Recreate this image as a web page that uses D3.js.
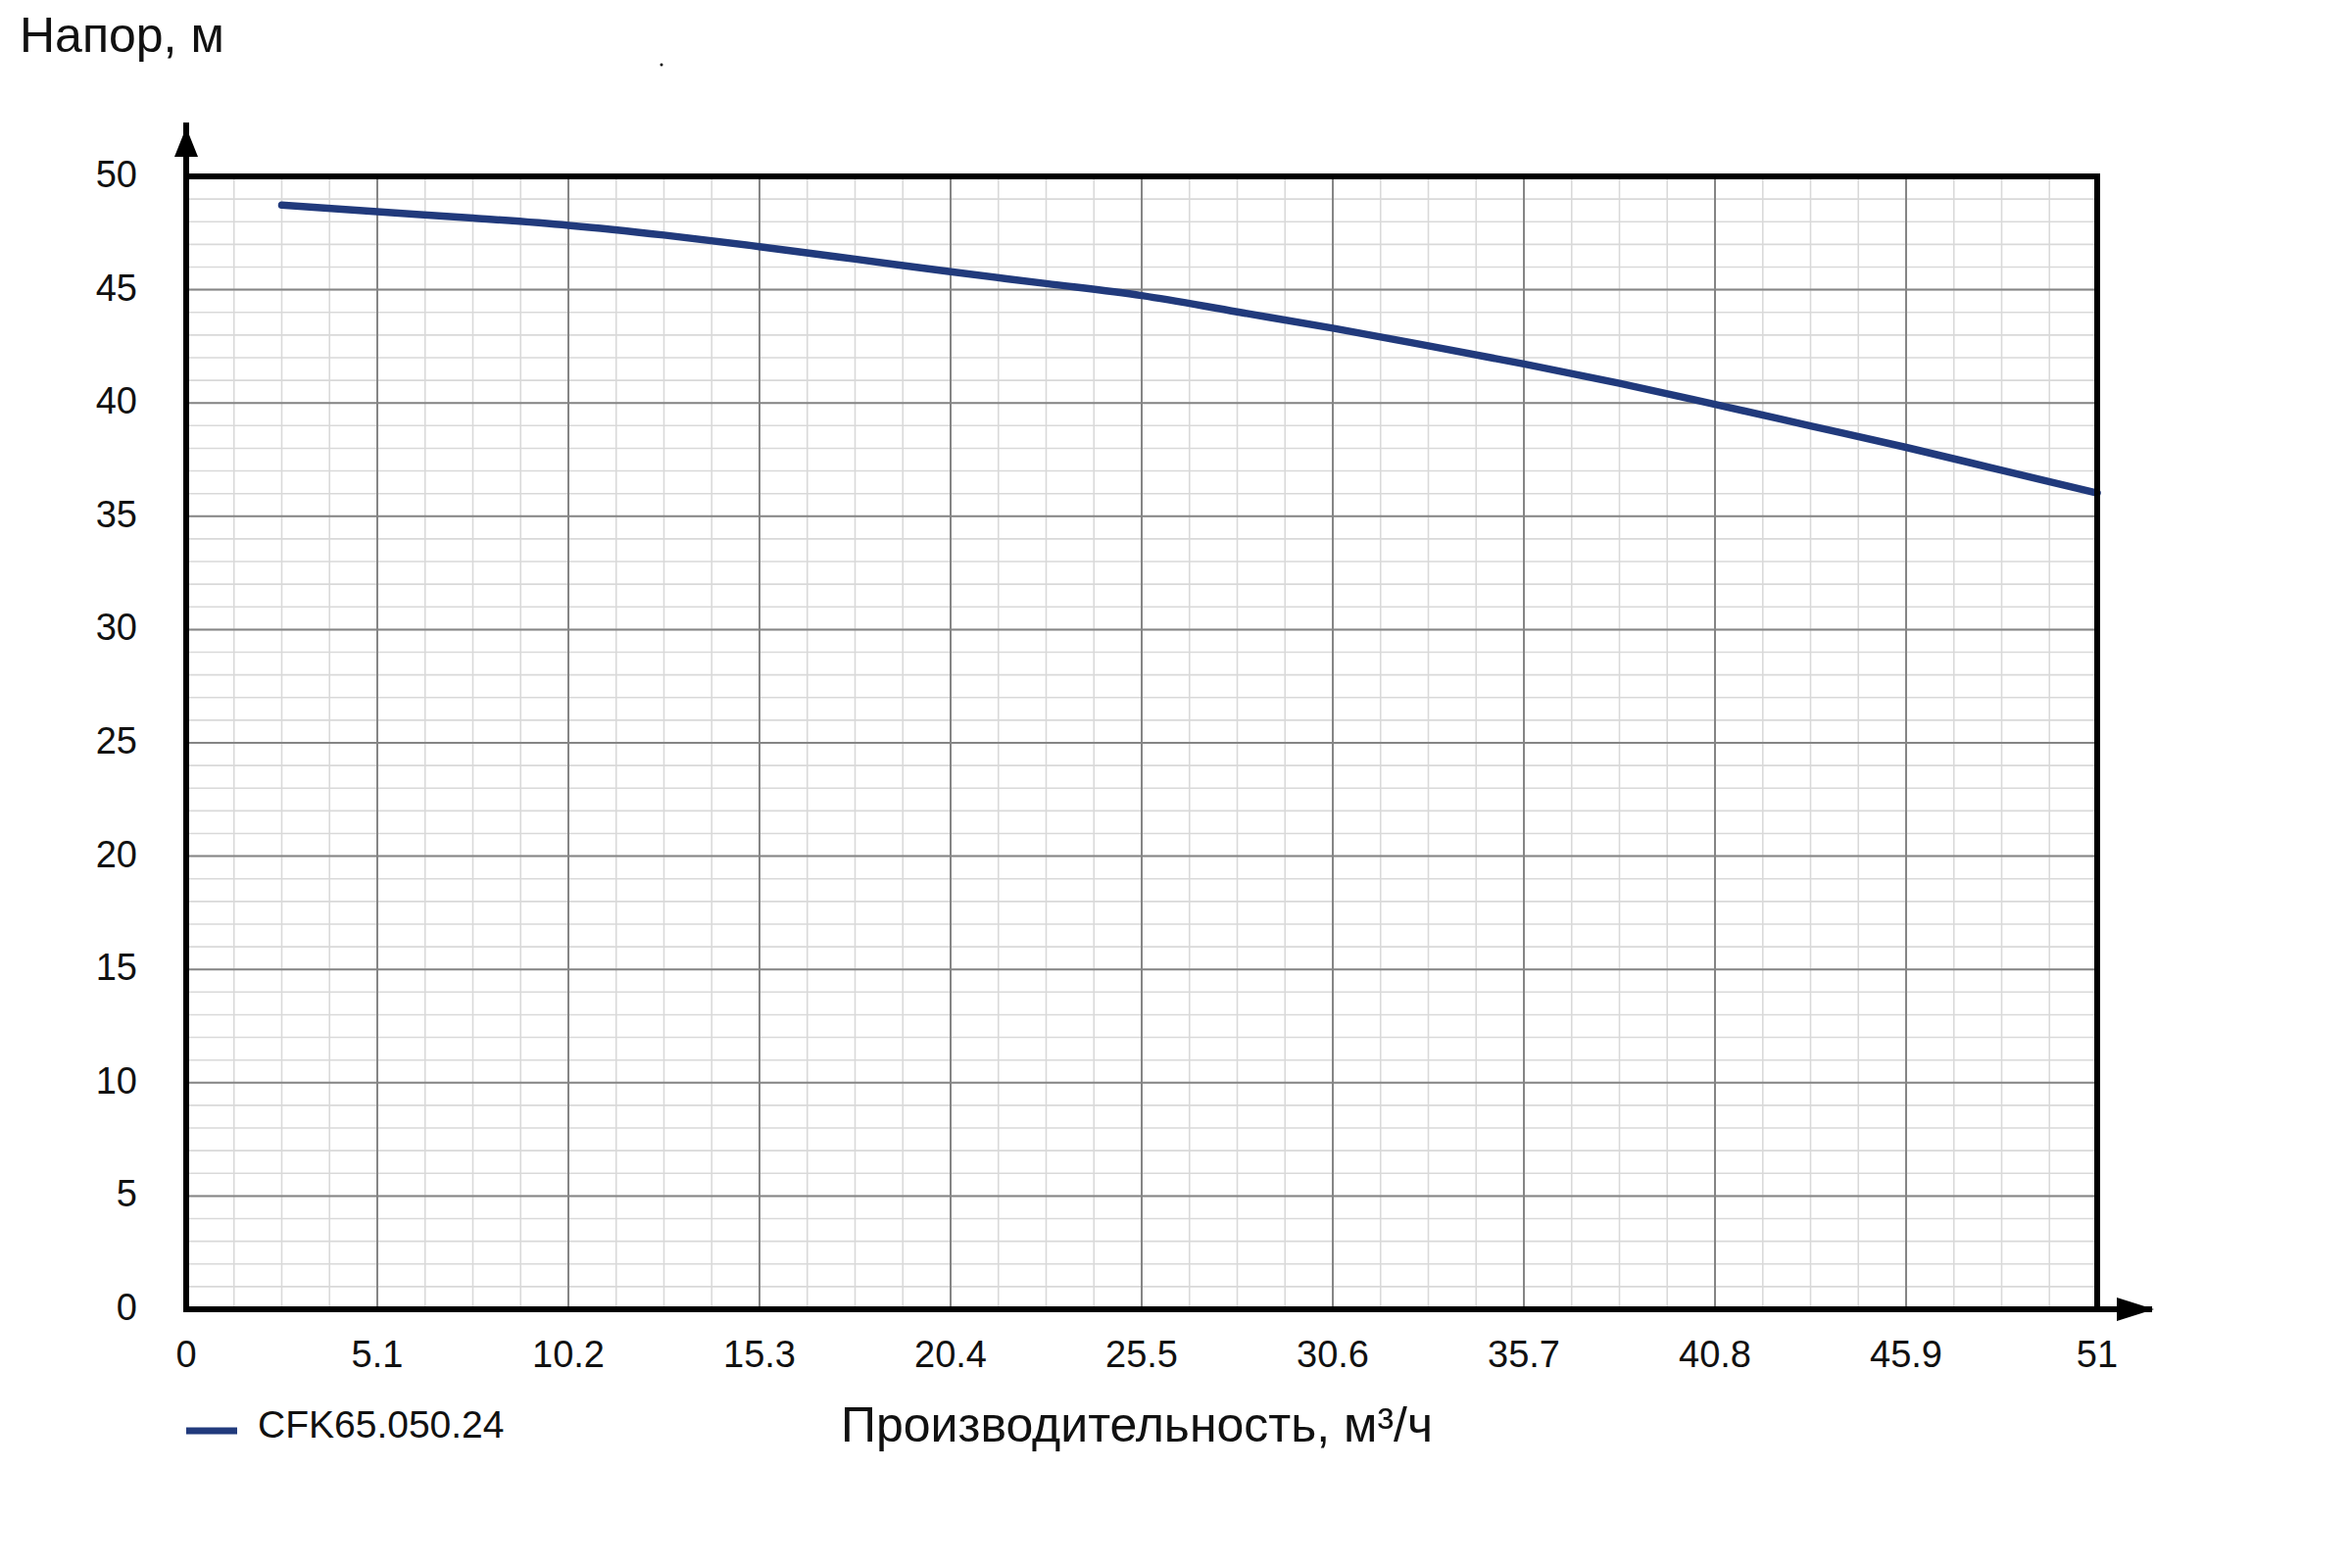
<!DOCTYPE html>
<meta charset="utf-8" />
<script src="https://d3js.org/d3.v7.min.js"></script>
<style>
  body { margin: 0; background: #fff; }
  text { font-family: "Liberation Sans", Arial, sans-serif; fill: #111; }
</style>
<body>
  <div id="chart"></div>
  <script>
    // pump curve
    const flow = [2.55, 5.1, 7.65, 10.2, 12.75, 15.3, 17.85, 20.4, 22.95, 25.5,
                  28.05, 30.6, 33.15, 35.7, 38.25, 40.8, 43.35, 45.9, 48.45, 51];
    const head = [48.73, 48.44, 48.16, 47.84, 47.41, 46.9, 46.35, 45.79, 45.27, 44.74,
                  44.02, 43.3, 42.52, 41.72, 40.87, 39.94, 38.99, 38.04, 37.03, 36.02];
    const xTicks = [0, 5.1, 10.2, 15.3, 20.4, 25.5, 30.6, 35.7, 40.8, 45.9, 51];
    const xTickLabels = ["0", "5.1", "10.2", "15.3", "20.4", "25.5", "30.6", "35.7", "40.8", "45.9", "51"];
    const yTicks = [0, 5, 10, 15, 20, 25, 30, 35, 40, 45, 50];
    const seriesName = "CFK65.050.24";

    const width = 2400, height = 1600;
    const plotLeft = 190, plotRight = 2140, plotTop = 180, plotBottom = 1336;
    const lineColor = "#213a7c";

    const svg = d3.select("#chart").append("svg")
      .attr("width", width).attr("height", height);

    const x = d3.scaleLinear().domain([0, 51]).range([plotLeft, plotRight]);
    const y = d3.scaleLinear().domain([0, 50]).range([plotBottom, plotTop]);

    // minor grid: 4 steps per major x step, 1 m steps on y
    const xMinor = d3.range(0, 41).map(i => i * 51 / 40);
    const yMinor = d3.range(0, 51);

    const grid = svg.append("g");
    grid.selectAll(".vminor").data(xMinor).enter().append("line")
      .attr("x1", d => x(d)).attr("x2", d => x(d))
      .attr("y1", plotTop).attr("y2", plotBottom)
      .attr("stroke", "#d9d9d9").attr("stroke-width", 1.6);
    grid.selectAll(".hminor").data(yMinor).enter().append("line")
      .attr("y1", d => y(d)).attr("y2", d => y(d))
      .attr("x1", plotLeft).attr("x2", plotRight)
      .attr("stroke", "#d9d9d9").attr("stroke-width", 1.6);
    grid.selectAll(".vmajor").data(xTicks).enter().append("line")
      .attr("x1", d => x(d)).attr("x2", d => x(d))
      .attr("y1", plotTop).attr("y2", plotBottom)
      .attr("stroke", "#858585").attr("stroke-width", 2);
    grid.selectAll(".hmajor").data(yTicks).enter().append("line")
      .attr("y1", d => y(d)).attr("y2", d => y(d))
      .attr("x1", plotLeft).attr("x2", plotRight)
      .attr("stroke", "#858585").attr("stroke-width", 2);

    // curve
    const pts = flow.map((f, i) => [f, head[i]]);
    const line = d3.line()
      .x(d => x(d[0])).y(d => y(d[1]))
      .curve(d3.curveCatmullRom.alpha(0.5));
    svg.append("path")
      .datum(pts)
      .attr("d", line)
      .attr("fill", "none")
      .attr("stroke", lineColor)
      .attr("stroke-width", 7.5)
      .attr("stroke-linecap", "round");

    // frame and axes
    svg.append("line").attr("x1", plotLeft).attr("x2", plotRight).attr("y1", plotTop).attr("y2", plotTop)
      .attr("stroke", "#000").attr("stroke-width", 6);
    svg.append("line").attr("x1", plotRight).attr("x2", plotRight).attr("y1", plotTop - 3).attr("y2", plotBottom)
      .attr("stroke", "#000").attr("stroke-width", 6);
    svg.append("line").attr("x1", plotLeft).attr("x2", plotLeft).attr("y1", 125).attr("y2", plotBottom + 3)
      .attr("stroke", "#000").attr("stroke-width", 6);
    svg.append("line").attr("x1", plotLeft - 3).attr("x2", 2196).attr("y1", plotBottom).attr("y2", plotBottom)
      .attr("stroke", "#000").attr("stroke-width", 6);
    svg.append("path")
      .attr("d", `M${plotLeft},130 L${plotLeft - 12},160 L${plotLeft + 12},160 Z`)
      .attr("fill", "#000");
    svg.append("path")
      .attr("d", `M2198,${plotBottom} L2160,${plotBottom - 12} L2160,${plotBottom + 12} Z`)
      .attr("fill", "#000");

    // tick labels
    svg.selectAll(".ylab").data(yTicks).enter().append("text")
      .attr("x", 140).attr("y", d => y(d) + 11)
      .attr("text-anchor", "end").attr("font-size", 38)
      .text(d => d);
    svg.selectAll(".xlab").data(xTicks).enter().append("text")
      .attr("x", d => x(d)).attr("y", 1395)
      .attr("text-anchor", "middle").attr("font-size", 38)
      .text((d, i) => xTickLabels[i]);

    // titles
    svg.append("text").attr("x", 20).attr("y", 53).attr("font-size", 50)
      .text("Напор, м");
    svg.append("text").attr("x", 1160).attr("y", 1471).attr("font-size", 50)
      .attr("text-anchor", "middle")
      .text("Производительность, м³/ч");

    // legend
    svg.append("line").attr("x1", 190).attr("x2", 242).attr("y1", 1460).attr("y2", 1460)
      .attr("stroke", lineColor).attr("stroke-width", 7);
    svg.append("text").attr("x", 263).attr("y", 1467).attr("font-size", 39)
      .text(seriesName);

    // stray dot in the original
    svg.append("circle").attr("cx", 675).attr("cy", 66).attr("r", 1.5).attr("fill", "#000");
  </script>
</body>
